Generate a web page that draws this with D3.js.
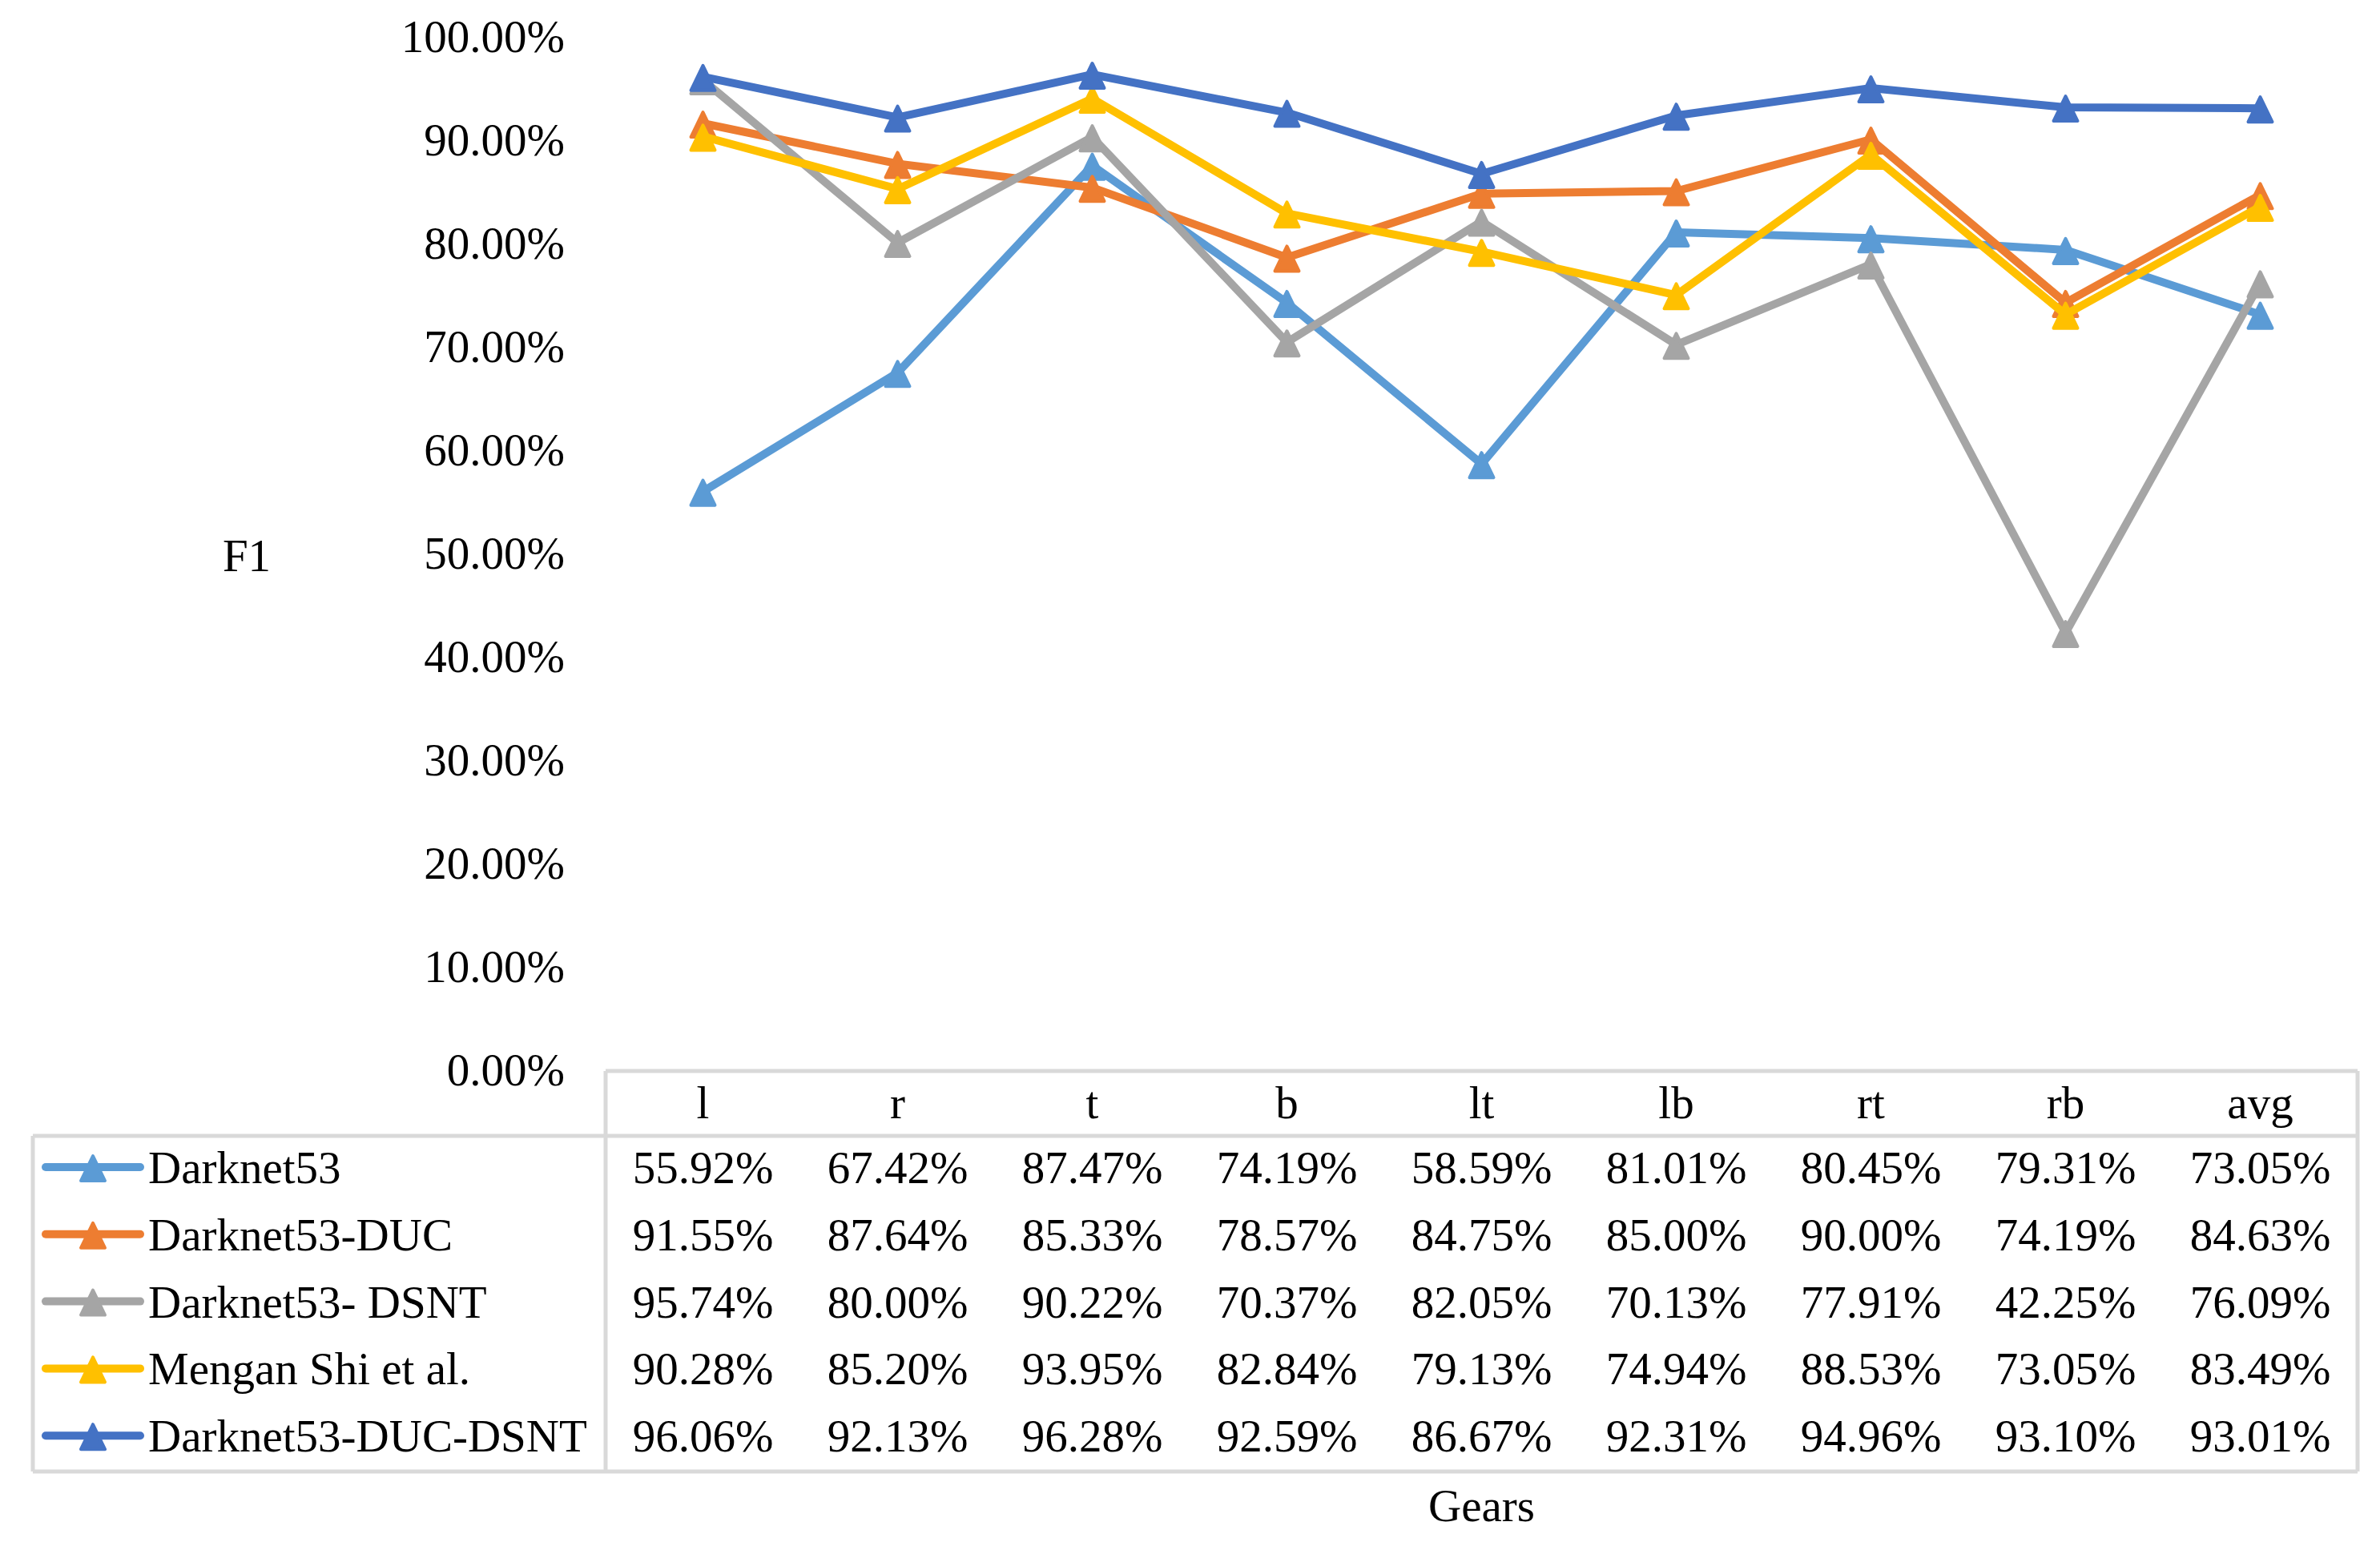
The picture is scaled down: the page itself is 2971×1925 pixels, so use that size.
<!DOCTYPE html>
<html>
<head>
<meta charset="utf-8">
<script src="https://cdn.jsdelivr.net/npm/d3@7"></script>
<style>
  html, body { margin: 0; padding: 0; background: #ffffff; }
  svg { display: block; }
  text { font-family: "Liberation Serif", "Times New Roman", serif; fill: #000; }
</style>
</head>
<body>
<svg id="chart" width="2971" height="1925"></svg>
<script>
// ---- data ----
const categories = ["l", "r", "t", "b", "lt", "lb", "rt", "rb", "avg"];
const seriesNames = ["Darknet53", "Darknet53-DUC", "Darknet53- DSNT", "Mengan Shi et al.", "Darknet53-DUC-DSNT"];
const darknet53 = [55.92, 67.42, 87.47, 74.19, 58.59, 81.01, 80.45, 79.31, 73.05];
const darknet53DUC = [91.55, 87.64, 85.33, 78.57, 84.75, 85.00, 90.00, 74.19, 84.63];
const darknet53DSNT = [95.74, 80.00, 90.22, 70.37, 82.05, 70.13, 77.91, 42.25, 76.09];
const menganShi = [90.28, 85.20, 93.95, 82.84, 79.13, 74.94, 88.53, 73.05, 83.49];
const darknet53DUCDSNT = [96.06, 92.13, 96.28, 92.59, 86.67, 92.31, 94.96, 93.10, 93.01];
const yTicks = [0, 10, 20, 30, 40, 50, 60, 70, 80, 90, 100];
const colors = ["#5B9BD5", "#ED7D31", "#A5A5A5", "#FFC000", "#4472C4"];
const seriesValues = [darknet53, darknet53DUC, darknet53DSNT, menganShi, darknet53DUCDSNT];
const series = seriesNames.map((name, i) => ({ name, color: colors[i], values: seriesValues[i] }));

// ---- layout ----
const svg = d3.select("#chart");
const fontSize = 57;
const plotLeft = 756, plotRight = 2943, plotTop = 45, plotBottom = 1335;
const tableLeft = 41, headerTop = 1337, headerBottom = 1418, tableBottom = 1837;
const borderColor = "#D9D9D9";

const x = d3.scaleBand().domain(categories).range([plotLeft, plotRight]);
const cx = c => x(c) + x.bandwidth() / 2;
const y = d3.scaleLinear().domain([0, 100]).range([plotBottom, plotTop]);
const row = d3.scaleBand().domain(seriesNames).range([headerBottom, tableBottom]);

// y axis (labels only)
const yAxis = d3.axisLeft(y).tickValues(yTicks).tickSize(0).tickPadding(13)
  .tickFormat(d => d.toFixed(2) + "%");
const gy = svg.append("g").attr("transform", `translate(718,0)`).call(yAxis);
gy.select(".domain").remove();
gy.selectAll("text")
  .attr("font-family", '"Liberation Serif", "Times New Roman", serif')
  .attr("font-size", fontSize).attr("fill", "#000").attr("dy", "0.35em");

// axis title F1
svg.append("text").attr("x", 308).attr("y", 713).attr("text-anchor", "middle")
  .attr("font-size", fontSize).text("F1");

// triangle marker path
const tri = "M0,-14 L15,17 L-15,17 Z";

// lines
const line = d3.line().x((d, i) => cx(categories[i])).y(d => y(d));
const gLines = svg.append("g");
series.forEach(s => {
  const g = gLines.append("g");
  g.append("path").attr("d", line(s.values)).attr("fill", "none")
    .attr("stroke", s.color).attr("stroke-width", 10).attr("stroke-linejoin", "round");
  g.selectAll("path.m").data(s.values).join("path").attr("class", "m")
    .attr("d", tri)
    .attr("transform", (d, i) => `translate(${cx(categories[i])},${y(d)})`)
    .attr("fill", s.color).attr("stroke", s.color).attr("stroke-width", 4)
    .attr("stroke-linejoin", "round");
});

// ---- data table ----
const gt = svg.append("g");
const bw = 5;
// header box
gt.append("line").attr("x1", plotLeft).attr("x2", plotRight).attr("y1", headerTop).attr("y2", headerTop)
  .attr("stroke", borderColor).attr("stroke-width", bw);
gt.append("line").attr("x1", tableLeft).attr("x2", plotRight).attr("y1", headerBottom).attr("y2", headerBottom)
  .attr("stroke", borderColor).attr("stroke-width", bw);
gt.append("line").attr("x1", tableLeft).attr("x2", plotRight).attr("y1", tableBottom).attr("y2", tableBottom)
  .attr("stroke", borderColor).attr("stroke-width", bw);
gt.append("line").attr("x1", tableLeft).attr("x2", tableLeft).attr("y1", headerBottom).attr("y2", tableBottom)
  .attr("stroke", borderColor).attr("stroke-width", bw);
gt.append("line").attr("x1", plotLeft).attr("x2", plotLeft).attr("y1", headerTop).attr("y2", tableBottom)
  .attr("stroke", borderColor).attr("stroke-width", bw);
gt.append("line").attr("x1", plotRight).attr("x2", plotRight).attr("y1", headerTop).attr("y2", tableBottom)
  .attr("stroke", borderColor).attr("stroke-width", bw);

// header labels
gt.selectAll("text.h").data(categories).join("text").attr("class", "h")
  .attr("x", d => cx(d)).attr("y", headerTop + 59).attr("text-anchor", "middle")
  .attr("font-size", fontSize).text(d => d);

// rows
series.forEach(s => {
  const top = row(s.name);
  const base = top + 59;
  const mid = top + 39;
  gt.append("line").attr("x1", 57).attr("x2", 175).attr("y1", mid).attr("y2", mid)
    .attr("stroke", s.color).attr("stroke-width", 10).attr("stroke-linecap", "round");
  gt.append("path").attr("d", tri).attr("transform", `translate(116,${mid})`)
    .attr("fill", s.color).attr("stroke", s.color).attr("stroke-width", 4).attr("stroke-linejoin", "round");
  gt.append("text").attr("x", 185).attr("y", base).attr("font-size", fontSize).text(s.name);
  gt.selectAll(null).data(s.values).join("text")
    .attr("x", (d, i) => cx(categories[i])).attr("y", base).attr("text-anchor", "middle")
    .attr("font-size", fontSize).text(d => d.toFixed(2) + "%");
});

// x axis title
svg.append("text").attr("x", (plotLeft + plotRight) / 2).attr("y", 1899).attr("text-anchor", "middle")
  .attr("font-size", fontSize).text("Gears");
</script>
</body>
</html>
